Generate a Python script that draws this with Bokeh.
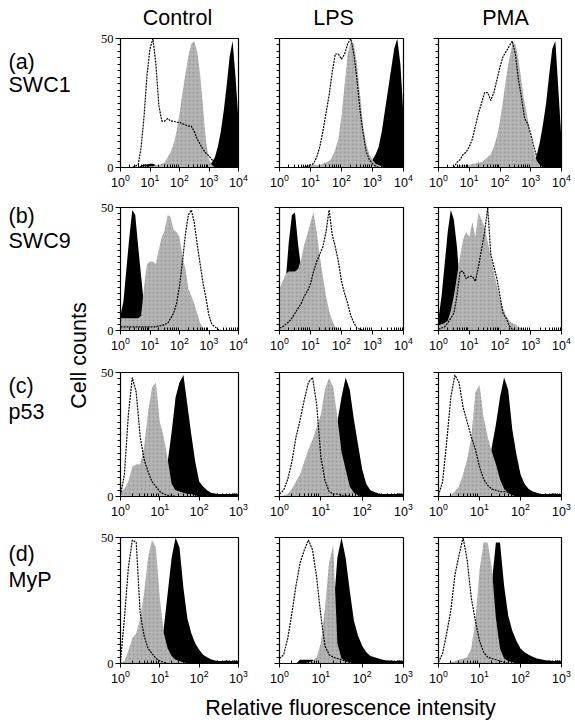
import numpy as np
from bokeh.plotting import figure
from bokeh.layouts import row, column
from bokeh.models import Range1d, FixedTicker, Label
from bokeh.embed import file_html
from bokeh.resources import INLINE

# ---------------- data ----------------
COLUMNS = ["Control", "LPS", "PMA"]
ROW_TAGS = ["(a)", "(b)", "(c)", "(d)"]
ROW_NAMES = ["SWC1", "SWC9", "p53", "MyP"]
X_TITLE = "Relative fluorescence intensity"
Y_TITLE = "Cell counts"
TOP_DECADE = [4, 4, 3, 3]          # x axis of each row runs 10^0 .. 10^TOP_DECADE
Y_TICKS = [0, 50]
STEP = 0.1                          # channel width, in decades

# counts (0-50) per channel, channel k at 10^(k*STEP)
# row (a) SWC1
A_CTRL_OUTLINE = [0,0,0,0,0,0.5,1,8,20,36, 46,50,40,24,18,18,19,18,18,17.5, 17.5,17,16.5,16,16,14,11,9,7,5.5, 4.5,3,2,1.5,1,0.5,0,0,0,0, 0]
A_CTRL_GREY = [0,0,0,0,0,0,0,0.3,0.5,0.5, 0.5,0.5,1,1,1.5,2,4,6,9,14, 21,29,36,43,48,49,45,36,23,10, 3,1,0,0,0,0,0,0,0,0, 0]
A_CTRL_BLACK = [0,0,0,0,0,0,0,0.8,1.2,1.2, 1.5,1.5,1,0.5,0,0,0,0,0,0, 0,0,0,0,0,0,0,0,0,0, 0.5,2,4,8,14,22,32,43,49,35, 18]
A_LPS_OUTLINE = [0,0,0,0,0,0,0,0,0,0.5, 1,1.5,4,8,14,21,28,37,44,44, 42,44,48,50,44,34,22,13,6,3, 1.5,0.5,0,0,0,0,0,0,0,0, 0]
A_LPS_GREY = [0,0,0,0,0,0,0,0.3,0.5,1, 1,1,1,1,1.5,2,2.5,4,7,11, 20,32,44,49,48,40,28,16,9,5, 3,1.5,1,0.5,0,0,0,0,0,0, 0]
A_LPS_BLACK = [0,0,0,0,0,0,0,0,0,0, 0,0,0,0,0,0,0,0,0,0, 0,0,0,0,0,0,0,0,0,1, 3,5,8,14,22,30,38,46,50,40, 20]
A_PMA_OUTLINE = [0,0,0,0,0,0,2,3,5,6, 8,11,16,21,25,29,29,26,29,34, 39,43,45,47,49,44,34,27,19,17, 13,8,4,1.5,0,0,0,0,0,0, 0]
A_PMA_GREY = [0,0,0,0,0,0,0.5,1,1,1, 1,1.5,1.5,2,2,3,4,5,8,12, 18,26,35,42,48,48,42,33,25,19, 12,6,2.5,1,0,0,0,0,0,0, 0]
A_PMA_BLACK = [0,0,0,0,0,0,0,0,0,0, 0,0,0,0,0,0,0,0,0,0, 0,0,0,0,0,0,0,0,0,0, 0.5,2,5,10,17,25,36,46,49,30, 10]
# row (b) SWC9
B_CTRL_OUTLINE = [1.5,1.5,1.5,1.5,1.5,1.5,1.5,1.5,1.5,1.5, 1.5,1.5,1.5,1.8,2,2.5,3,5,7,11, 18,28,39,47,49,44,35,27,19,13, 6,2.5,1.5,0.5,0,0,0,0,0,0, 0]
B_CTRL_GREY = [5,5,5,5,5,5,5,6,18,27, 28,28,27,33,38,41,47,46,41,40, 38,30,25,17,14,11,7,3,1,0, 0,0,0,0,0,0,0,0,0,0, 0]
B_CTRL_BLACK = [6,12,25,38,49,47,34,22,10,3, 0.5,0,0,0,0,0,0,0,0,0, 0,0,0,0,0,0,0,0,0,0, 0,0,0,0,0,0,0,0,0,0, 0]
B_LPS_OUTLINE = [1,1.5,2.5,3.5,5,7,9,11,14,16, 19,24,28,31,34,40,49,39,34,28, 20,15,11,6,3,1,0.5,0,0,0, 0,0,0,0,0,0,0,0,0,0, 0]
B_LPS_GREY = [17,20,23,24,24,24,25,29,35,39, 44,48,40,30,22,14,8,4,1.5,0.5, 0,0,0,0,0,0,0,0,0,0, 0,0,0,0,0,0,0,0,0,0, 0]
B_LPS_BLACK = [5,10,20,36,47,48,35,25,14,5, 1,0,0,0,0,0,0,0,0,0, 0,0,0,0,0,0,0,0,0,0, 0,0,0,0,0,0,0,0,0,0, 0]
B_PMA_OUTLINE = [0.5,1,1.5,3,5,7,14,24,24,21, 22,22,20,26,33,40,50,31,26,21, 14,7,5,2,0.5,0,0,0,0,0, 0,0,0,0,0,0,0,0,0,0, 0]
B_PMA_GREY = [2,2.5,3,4,8,14,22,30,37,40, 38,44,38,48,45,42,36,30,24,18, 13,9,6,4,3,2.5,1.5,1,0.5,0, 0,0,0,0,0,0,0,0,0,0, 0]
B_PMA_BLACK = [5,14,27,40,49,45,34,18,6,1, 0,0,0,0,0,0,0,0,0,0, 0,0,0,0,0,0,0,0,0,0, 0,0,0,0,0,0,0,0,0,0, 0]
# row (c) p53
C_CTRL_OUTLINE = [0.5,9,33,48,42,24,15,10,6,4, 2,1,0.5,0.5,0,0,0,0,0,0, 0,0,0,0,0,0,0,0,0,0, 0]
C_CTRL_GREY = [2,3,6,12,13,13,20,34,44,46, 30,24,15,5,2.5,2,1.5,1,1,0.5, 0,0,0,0,0,0,0,0,0,0, 0]
C_CTRL_BLACK = [0,0,0,0,0,0,0,0,0,1, 3,8,14,26,40,46,49,37,25,14, 6,4,2.5,1.5,1.2,1,1,1,1,1.2, 1]
C_LPS_OUTLINE = [1,2.5,7,14,24,31,39,46,48,37, 16,6.5,2,1,1,0.5,0.5,0,0,0, 0,0,0,0,0,0,0,0,0,0, 0]
C_LPS_GREY = [0,0.5,1,3,6,9,14,19,23,28, 33,43,48,44,32,18,11,4,1.5,0.5, 0,0,0,0,0,0,0,0,0,0, 0]
C_LPS_BLACK = [0,0,0,0,0,0,0,0,0,0, 1,3,10,20,30,40,48,43,31,21, 11,5,2.5,1.8,1.2,1,1,1,1,1.2, 1]
C_PMA_OUTLINE = [0.5,6,22,40,49,46,36,30,24,19, 12,7,4.5,3,2.5,2,2,1.7,1,0.5, 0,0,0,0,0,0,0,0,0,0, 0]
C_PMA_GREY = [0,0,0,0.5,2,4,9,15,24,42, 45,32,24,18,13,7,3,1.5,0.5,0, 0,0,0,0,0,0,0,0,0,0, 0]
C_PMA_BLACK = [0,0,0,0,0,0,0,0,0,0, 1,4,10,20,29,40,48,43,27,17, 9,5,3,2,1.5,1,1,1,1.2,1, 1]
# row (d) MyP
D_CTRL_OUTLINE = [1,18,38,49,48,20,11,6,4,2, 1,0.5,0,0,0,0,0,0,0,0, 0,0,0,0,0,0,0,0,0,0, 0]
D_CTRL_GREY = [0.5,1,5,10,12,18,28,42,49,46, 26,12,6,3,1.5,1,0.5,0,0,0, 0,0,0,0,0,0,0,0,0,0, 0]
D_CTRL_BLACK = [0,0,0,0,0,0,0,0,0,1, 5,14,28,42,50,46,30,18,12,8, 5.5,3.5,2.5,1.7,1.2,1,1,1.2,1,1.2, 1]
D_LPS_OUTLINE = [2,3.5,10,20,31,40,45,49,45,34, 19,7,3.5,2.5,2,1.5,1,0.5,0,0, 0,0,0,0,0,0,0,0,0,0, 0]
D_LPS_GREY = [0,0,0,0,0,0,0,0.5,1,2.5, 8,22,40,47,8,2,1,0.5,0,0, 0,0,0,0,0,0,0,0,0,0, 0]
D_LPS_BLACK = [0,0,0,0,0,1.5,1.5,1.5,1.5,1, 0.5,1,3,20,42,50,42,29,17,11, 7,4.5,3,2.5,2,1.5,1.2,1.2,1,1.2, 1]
D_PMA_OUTLINE = [0.5,4,12,21,35,43,50,41,26,17, 9,4.5,2.5,2,1.5,1,0.5,0,0,0, 0,0,0,0,0,0,0,0,0,0, 0]
D_PMA_GREY = [0,0,0,0.5,1,1.5,2,2.5,6,17, 37,48,48,38,18,6,2,1,0.5,0, 0,0,0,0,0,0,0,0,0,0, 0]
D_PMA_BLACK = [0,0,0,0,0,0,0,0,0,0, 0,3,15,32,48,48,31,19,13,9, 6,4.5,3.5,2.7,2,1.7,1.3,1.2,1,1.2, 1]

PANELS = [
    [(A_CTRL_OUTLINE, A_CTRL_GREY, A_CTRL_BLACK), (A_LPS_OUTLINE, A_LPS_GREY, A_LPS_BLACK), (A_PMA_OUTLINE, A_PMA_GREY, A_PMA_BLACK)],
    [(B_CTRL_OUTLINE, B_CTRL_GREY, B_CTRL_BLACK), (B_LPS_OUTLINE, B_LPS_GREY, B_LPS_BLACK), (B_PMA_OUTLINE, B_PMA_GREY, B_PMA_BLACK)],
    [(C_CTRL_OUTLINE, C_CTRL_GREY, C_CTRL_BLACK), (C_LPS_OUTLINE, C_LPS_GREY, C_LPS_BLACK), (C_PMA_OUTLINE, C_PMA_GREY, C_PMA_BLACK)],
    [(D_CTRL_OUTLINE, D_CTRL_GREY, D_CTRL_BLACK), (D_LPS_OUTLINE, D_LPS_GREY, D_LPS_BLACK), (D_PMA_OUTLINE, D_PMA_GREY, D_PMA_BLACK)],
]

# ---------------- layout / style ----------------
FONT = "Liberation Sans"
LABEL_SIZE = "21.5px"
GREY = "#b5b5b5"

LEFT_W = 95
COL_W = [163, 160, 154]
COL_BORDER = [(25, 20), (21, 15), (20, 11)]
HEAD_H = 30
ROW_H = [168, 165, 165, 162]
ROW_BORDER = [(8, 31), (9, 33), (9, 32), (9, 27)]
FOOT_H = 30
TOTAL_H = HEAD_H + sum(ROW_H) + FOOT_H


def blank(width, height):
    f = figure(width=width, height=height, x_range=Range1d(0, width), y_range=Range1d(height, 0),
               toolbar_location=None, output_backend="svg", min_border=0,
               x_axis_location=None, y_axis_location=None)
    f.outline_line_color = None
    f.grid.visible = False
    f.background_fill_color = "white"
    f.border_fill_color = "white"
    return f


def text_label(fig, x, y, txt, align="left", angle=0.0):
    fig.add_layout(Label(x=x, y=y, text=txt, angle=angle, text_font=FONT,
                         text_font_size=LABEL_SIZE, text_baseline="middle",
                         text_align=align, text_color="black"))


def panel(r, c):
    outline, grey, black = PANELS[r][c]
    top = TOP_DECADE[r]
    lb, rb = COL_BORDER[c]
    tb, bb = ROW_BORDER[r]
    p = figure(width=COL_W[c], height=ROW_H[r], x_axis_type="log",
               x_range=Range1d(1, 10 ** top), y_range=Range1d(0, 50),
               toolbar_location=None, output_backend="svg",
               min_border_left=lb, min_border_right=rb, min_border_top=tb, min_border_bottom=bb)
    p.grid.visible = False
    p.outline_line_color = "black"
    p.outline_line_width = 1.2
    p.background_fill_color = "white"
    p.border_fill_color = "white"

    x = 10 ** (np.arange(len(outline)) * STEP)
    p.varea(x=x, y1=0, y2=black, fill_color="black")
    p.varea(x=x, y1=0, y2=grey, fill_color=GREY,
            hatch_pattern="dot", hatch_color="#7f7f7f", hatch_scale=4, hatch_alpha=0.55)
    p.line(x, outline, line_color="black", line_width=1.2, line_dash="2 1")

    xa = p.xaxis[0]
    xa.ticker = FixedTicker(ticks=[10 ** k for k in range(top + 1)],
                            minor_ticks=[m * 10 ** k for k in range(top) for m in range(2, 10)])
    xa.major_tick_out = 4
    xa.major_tick_in = 0
    xa.minor_tick_in = 3
    xa.minor_tick_out = 0
    xa.major_label_standoff = 2
    xa.major_label_text_font = FONT
    xa.major_label_text_font_size = "12.5px"
    xa.major_label_text_color = "black"
    xa.axis_line_color = "black"

    ya = p.yaxis[0]
    ya.ticker = FixedTicker(ticks=Y_TICKS, minor_ticks=[i * 2.5 for i in range(21)])
    ya.major_tick_out = 5
    ya.major_tick_in = 0
    ya.minor_tick_out = 3
    ya.minor_tick_in = 0
    ya.major_label_standoff = 2
    ya.major_label_text_font = "Liberation Serif"
    ya.major_label_text_font_size = "12.5px"
    ya.major_label_text_color = "black"
    ya.axis_line_color = "black"
    if c != 0:
        ya.major_label_overrides = {t: "" for t in Y_TICKS}
    return p


# left column: row labels and the y title
left = blank(LEFT_W, TOTAL_H)
ROW_MID = [(61, 84), (215, 240), (385, 411), (553, 579)]
for i in range(4):
    m1, m2 = ROW_MID[i]
    text_label(left, 8, m1, ROW_TAGS[i])
    text_label(left, 8, m2, ROW_NAMES[i])
text_label(left, 78.5, 355, Y_TITLE, align="center", angle=np.pi / 2)

RIGHT_W = sum(COL_W)
header = blank(RIGHT_W, HEAD_H)
HEAD_X = [82, 238, 410]
for j in range(3):
    text_label(header, HEAD_X[j], 17.5, COLUMNS[j], align="center")

footer = blank(RIGHT_W, FOOT_H)
text_label(footer, 255, 17, X_TITLE, align="center")

rows = [row([panel(r, c) for c in range(3)]) for r in range(4)]
layout = row([left, column([header] + rows + [footer])])

open("out.html", "w").write(file_html(layout, INLINE))
